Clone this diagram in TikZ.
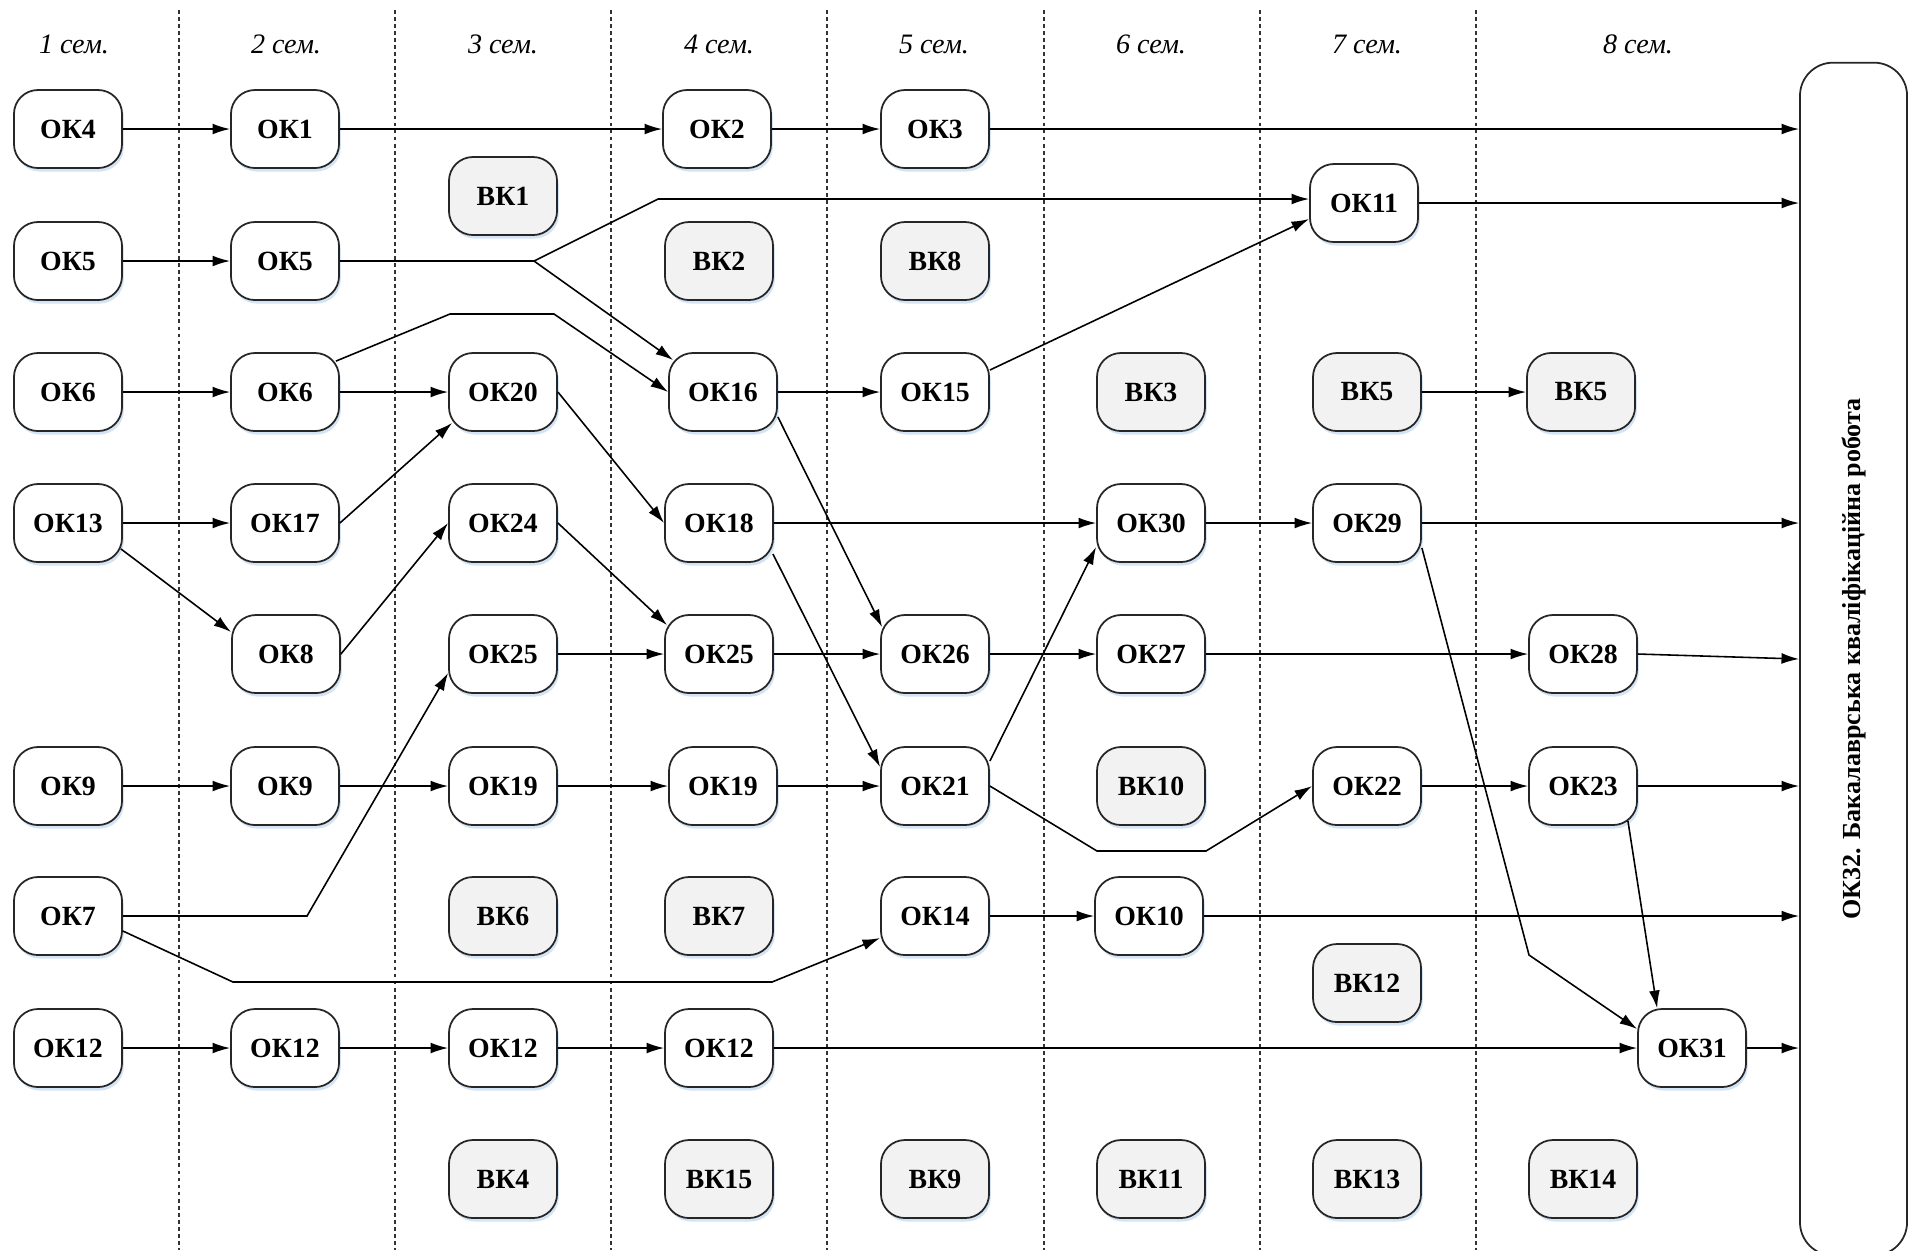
\documentclass[tikz,border=0pt]{standalone}
\usepackage{fontspec}
\setmainfont{Liberation Serif}
\usepackage{graphicx}
\usetikzlibrary{arrows.meta,shadows,calc}
\definecolor{glow}{HTML}{C9DDF2}
\definecolor{vkfill}{HTML}{F2F2F2}

\begin{document}
\begin{tikzpicture}[x=0.01cm,y=-0.01cm,
  ok/.style={draw=black!85,line width=0.5pt,rounded corners=0.24cm,fill=white,
    minimum width=1.08cm,minimum height=0.78cm,inner sep=0pt,
    font=\fontsize{7.9}{9}\selectfont\bfseries,
    drop shadow={shadow xshift=0.5pt,shadow yshift=-1pt,fill=glow,opacity=0.8}},
  vk/.style={ok,fill=vkfill},
  sem/.style={font=\fontsize{8}{9}\selectfont\itshape},
  arr/.style={-{Latex[length=5pt,width=3.1pt]},line width=0.45pt},
  lane/.style={dash pattern=on 1.1pt off 0.9pt,line width=0.4pt,black!80}]
  \useasboundingbox (0,0) rectangle (1910,1250);

  % semesters
  \draw[lane] (179,10) -- (179,1250);
  \draw[lane] (395,10) -- (395,1250);
  \draw[lane] (611,10) -- (611,1250);
  \draw[lane] (827,10) -- (827,1250);
  \draw[lane] (1044,10) -- (1044,1250);
  \draw[lane] (1260,10) -- (1260,1250);
  \draw[lane] (1476,10) -- (1476,1250);
  \node[sem] (s1) at (74,44) {1 сем.};
  \node[sem] (s2) at (286,44) {2 сем.};
  \node[sem] (s3) at (503,44) {3 сем.};
  \node[sem] (s4) at (719,44) {4 сем.};
  \node[sem] (s5) at (934,44) {5 сем.};
  \node[sem] (s6) at (1151,44) {6 сем.};
  \node[sem] (s7) at (1367,44) {7 сем.};
  \node[sem] (s8) at (1638,44) {8 сем.};

  \node[draw=black!85,line width=0.5pt,rounded corners=0.33cm,minimum width=1.07cm,
    minimum height=11.92cm,inner sep=0pt,font=\fontsize{7.4}{9}\selectfont\bfseries]
    (ok32) at (1853.5,659) {\rotatebox{90}{ОК32. Бакалаврська кваліфікаційна робота}};

  \node[ok] (ok4) at (68,129) {ОК4};
  \node[ok] (ok1) at (285,129) {ОК1};
  \node[ok] (ok2) at (717,129) {ОК2};
  \node[ok] (ok3) at (935,129) {ОК3};
  \node[vk] (vk1) at (503,196) {ВК1};
  \node[ok] (ok11) at (1364,203) {ОК11};

  \node[ok] (ok5a) at (68,261) {ОК5};
  \node[ok] (ok5b) at (285,261) {ОК5};
  \node[vk] (vk2) at (719,261) {ВК2};
  \node[vk] (vk8) at (935,261) {ВК8};

  \node[ok] (ok6a) at (68,392) {ОК6};
  \node[ok] (ok6b) at (285,392) {ОК6};
  \node[ok] (ok20) at (503,392) {ОК20};
  \node[ok] (ok16) at (723,392) {ОК16};
  \node[ok] (ok15) at (935,392) {ОК15};
  \node[vk] (vk3) at (1151,392) {ВК3};
  \node[vk] (vk5a) at (1367,392) {ВК5};
  \node[vk] (vk5b) at (1581,392) {ВК5};

  \node[ok] (ok13) at (68,523) {ОК13};
  \node[ok] (ok17) at (285,523) {ОК17};
  \node[ok] (ok24) at (503,523) {ОК24};
  \node[ok] (ok18) at (719,523) {ОК18};
  \node[ok] (ok30) at (1151,523) {ОК30};
  \node[ok] (ok29) at (1367,523) {ОК29};

  \node[ok] (ok8) at (286,654) {ОК8};
  \node[ok] (ok25a) at (503,654) {ОК25};
  \node[ok] (ok25b) at (719,654) {ОК25};
  \node[ok] (ok26) at (935,654) {ОК26};
  \node[ok] (ok27) at (1151,654) {ОК27};
  \node[ok] (ok28) at (1583,654) {ОК28};

  \node[ok] (ok9a) at (68,786) {ОК9};
  \node[ok] (ok9b) at (285,786) {ОК9};
  \node[ok] (ok19a) at (503,786) {ОК19};
  \node[ok] (ok19b) at (723,786) {ОК19};
  \node[ok] (ok21) at (935,786) {ОК21};
  \node[vk] (vk10) at (1151,786) {ВК10};
  \node[ok] (ok22) at (1367,786) {ОК22};
  \node[ok] (ok23) at (1583,786) {ОК23};

  \node[ok] (ok7) at (68,916) {ОК7};
  \node[vk] (vk6) at (503,916) {ВК6};
  \node[vk] (vk7) at (719,916) {ВК7};
  \node[ok] (ok14) at (935,916) {ОК14};
  \node[ok] (ok10) at (1149,916) {ОК10};
  \node[vk] (vk12) at (1367,983) {ВК12};

  \node[ok] (ok12a) at (68,1048) {ОК12};
  \node[ok] (ok12b) at (285,1048) {ОК12};
  \node[ok] (ok12c) at (503,1048) {ОК12};
  \node[ok] (ok12d) at (719,1048) {ОК12};
  \node[ok] (ok31) at (1692,1048) {ОК31};

  \node[vk] (vk4) at (503,1179) {ВК4};
  \node[vk] (vk15) at (719,1179) {ВК15};
  \node[vk] (vk9) at (935,1179) {ВК9};
  \node[vk] (vk11) at (1151,1179) {ВК11};
  \node[vk] (vk13) at (1367,1179) {ВК13};
  \node[vk] (vk14) at (1583,1179) {ВК14};

  % straight links
  \draw[arr] (ok4) -- (ok1);
  \draw[arr] (ok1) -- (ok2);
  \draw[arr] (ok2) -- (ok3);
  \draw[arr] (ok5a) -- (ok5b);
  \draw[arr] (ok6a) -- (ok6b);
  \draw[arr] (ok6b) -- (ok20);
  \draw[arr] (ok16) -- (ok15);
  \draw[arr] (vk5a) -- (vk5b);
  \draw[arr] (ok13) -- (ok17);
  \draw[arr] (ok18) -- (ok30);
  \draw[arr] (ok30) -- (ok29);
  \draw[arr] (ok25a) -- (ok25b);
  \draw[arr] (ok25b) -- (ok26);
  \draw[arr] (ok26) -- (ok27);
  \draw[arr] (ok27) -- (ok28);
  \draw[arr] (ok9a) -- (ok9b);
  \draw[arr] (ok9b) -- (ok19a);
  \draw[arr] (ok19a) -- (ok19b);
  \draw[arr] (ok19b) -- (ok21);
  \draw[arr] (ok22) -- (ok23);
  \draw[arr] (ok14) -- (ok10);
  \draw[arr] (ok12a) -- (ok12b);
  \draw[arr] (ok12b) -- (ok12c);
  \draw[arr] (ok12c) -- (ok12d);
  \draw[arr] (ok12d) -- (ok31);

  % into the thesis
  \draw[arr] (ok3) -- (ok3 -| ok32.west);
  \draw[arr] (ok11) -- (ok11 -| ok32.west);
  \draw[arr] (ok29) -- (ok29 -| ok32.west);
  \draw[arr] (ok28.east) -- ($(ok28.east -| ok32.west)+(0,5)$);
  \draw[arr] (ok23) -- (ok23 -| ok32.west);
  \draw[arr] (ok10) -- (ok10 -| ok32.west);
  \draw[arr] (ok31) -- (ok31 -| ok32.west);

  % bent and slanted links
  \coordinate (fork5) at (534,261);
  \coordinate (b11) at (658,199);
  \draw (ok5b) -- (fork5);
  \draw[arr] (fork5) -- (b11) -- (b11 -| ok11.west);
  \draw[arr] (fork5) -- ([shift={(5,8)}]ok16.north west);
  \coordinate (b16a) at (450,314);
  \coordinate (b16b) at (554,314);
  \draw[arr] ([shift={(-4,9)}]ok6b.north east) -- (b16a) -- (b16b) -- (ok16.west);
  \draw[arr] ([shift={(-2,-14)}]ok13.south east) -- ([shift={(0,-22)}]ok8.west);
  \draw[arr] (ok17.east) -- ([shift={(4,-9)}]ok20.south west);
  \draw[arr] (ok8.east) -- (ok24.west);
  \draw[arr] (ok20.east) -- (ok18.west);
  \draw[arr] (ok24.east) -- ([shift={(3,11)}]ok25b.north west);
  \draw[arr] ([shift={(0,25)}]ok16.east) -- ([shift={(2,13)}]ok26.north west);
  \draw[arr] ([shift={(-1,-9)}]ok18.south east) -- ([shift={(0,-19)}]ok21.west);
  \draw[arr] ([shift={(0,-22)}]ok15.east) -- ([shift={(0,16)}]ok11.west);
  \draw[arr] ([shift={(0,-25)}]ok21.east) -- ([shift={(0,24)}]ok30.west);
  \coordinate (b22a) at (1097,851);
  \coordinate (b22b) at (1206,851);
  \draw[arr] (ok21.east) -- (b22a) -- (b22b) -- (ok22.west);
  \coordinate (b31) at (1529,955);
  \draw[arr] ([shift={(0,25)}]ok29.east) -- (b31) -- ([shift={(0,-19)}]ok31.west);
  \draw[arr] ([shift={(-10,-5)}]ok23.south east) -- ([shift={(20,0)}]ok31.north west);
  \coordinate (b25) at (307,916);
  \draw[arr] (ok7.east) -- (b25) -- ([shift={(0,19)}]ok25a.west);
  \coordinate (b14a) at (233,982);
  \coordinate (b14b) at (772,982);
  \draw[arr] ([shift={(0,15)}]ok7.east) -- (b14a) -- (b14b) -- ([shift={(0,22)}]ok14.west);
\end{tikzpicture}
\end{document}
